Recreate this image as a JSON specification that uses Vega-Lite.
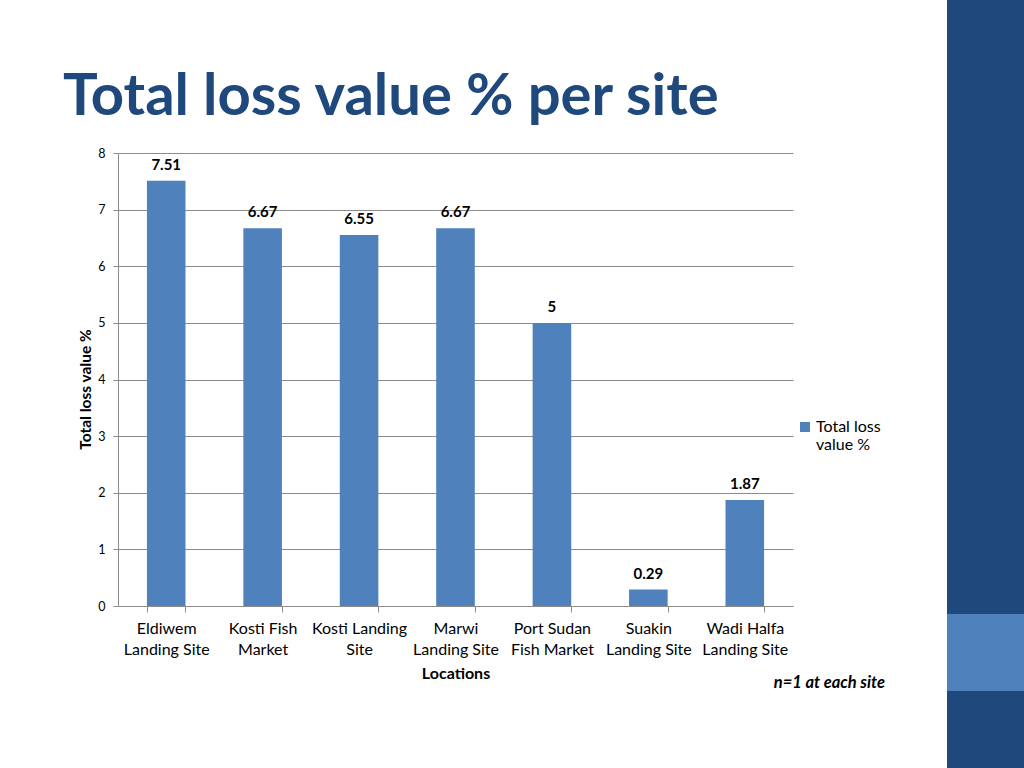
{
  "$schema": "https://vega.github.io/schema/vega-lite/v6.json",
  "autosize": {"type": "pad"},
  "padding": {"left": 63, "top": 0, "right": 0, "bottom": 0},
  "background": "white",
  "config": {"view": {"stroke": null}, "font": "Lato"},
  "columns": 2,
  "spacing": {"row": 0, "column": 154},
  "bounds": "flush",
  "concat": [
    {
      "width": 675,
      "height": 153,
      "data": {"values": []},
      "mark": "text",
      "encoding": {},
      "title": {
        "text": "Total loss value % per site",
        "orient": "top",
        "anchor": "start",
        "frame": "group",
        "dx": -55,
        "offset": -173,
        "baseline": "alphabetic",
        "font": "Lato",
        "fontSize": 58,
        "fontWeight": "bold",
        "color": "#1F497D"
      }
    },
    {"width": 77, "height": 153, "view": {"fill": "#1F497D", "stroke": null}, "data": {"values": []}, "mark": "text", "encoding": {}},
    {
      "width": 675,
      "height": 453,
      "data": {
        "values": [
          {"site": "Eldiwem Landing Site", "value": 7.51},
          {"site": "Kosti Fish Market", "value": 6.67},
          {"site": "Kosti Landing Site", "value": 6.55},
          {"site": "Marwi Landing Site", "value": 6.67},
          {"site": "Port Sudan Fish Market", "value": 5},
          {"site": "Suakin Landing Site", "value": 0.29},
          {"site": "Wadi Halfa Landing Site", "value": 1.87}
        ]
      },
      "title": {
        "text": "n=1 at each site",
        "orient": "bottom",
        "anchor": "end",
        "frame": "group",
        "dx": 92,
        "offset": -6,
        "font": "Lato",
        "fontSize": 16.5,
        "fontWeight": "bold",
        "fontStyle": "italic",
        "color": "#000000"
      },
      "encoding": {
        "x": {
          "field": "site",
          "type": "nominal",
          "sort": null,
          "scale": {"paddingInner": 0.6, "paddingOuter": 0.3},
          "axis": {
            "title": "Locations",
            "titleFont": "Lato",
            "titleFontSize": 16,
            "titleFontWeight": "bold",
            "titleColor": "#000000",
            "titlePadding": 8,
            "tickBand": "extent",
            "domainColor": "#8c8c8c",
            "tickColor": "#8c8c8c",
            "tickSize": 6,
            "labelAngle": 0,
            "labelFont": "Lato",
            "labelFontSize": 16,
            "labelColor": "#000000",
            "labelPadding": 8,
            "labelLineHeight": 21,
            "labelExpr": "datum.value == null ? '' : datum.value == 'Eldiwem Landing Site' ? ['Eldiwem', 'Landing Site'] : datum.value == 'Kosti Fish Market' ? ['Kosti Fish', 'Market'] : datum.value == 'Kosti Landing Site' ? ['Kosti Landing', 'Site'] : datum.value == 'Port Sudan Fish Market' ? ['Port Sudan', 'Fish Market'] : [replace(datum.value, ' Landing Site', ''), 'Landing Site']"
          }
        }
      },
      "layer": [
        {
          "mark": {"type": "bar"},
          "encoding": {
            "y": {
              "field": "value",
              "type": "quantitative",
              "scale": {"domain": [0, 8], "nice": false},
              "axis": {
                "title": "Total loss value %",
                "titleFont": "Lato",
                "titleFontSize": 15.5,
                "titleFontWeight": "bold",
                "titleColor": "#000000",
                "titlePadding": 4,
                "titleY": 236,
                "values": [0, 1, 2, 3, 4, 5, 6, 7, 8],
                "format": "d",
                "grid": true,
                "gridColor": "#8c8c8c",
                "domainColor": "#8c8c8c",
                "tickColor": "#8c8c8c",
                "tickSize": 5,
                "labelFont": "Lato",
                "labelFontSize": 12.5,
                "labelColor": "#000000",
                "labelPadding": 8
              }
            },
            "color": {
              "datum": "Total loss value %",
              "scale": {"range": ["#4F81BD"]},
              "legend": {
                "orient": "none",
                "legendX": 679,
                "legendY": 419,
                "title": null,
                "symbolType": "square",
                "symbolSize": 100,
                "symbolStrokeWidth": 0,
                "labelOffset": 3,
                "labelFont": "Lato",
                "labelFontSize": 16,
                "labelColor": "#000000",
                "labelExpr": "['Total loss', 'value %']"
              }
            }
          }
        },
        {
          "mark": {"type": "text", "dy": -16, "font": "Lato", "fontSize": 15, "fontWeight": "bold", "color": "#000000"},
          "encoding": {
            "y": {"field": "value", "type": "quantitative"},
            "text": {"field": "value", "type": "nominal"}
          }
        }
      ]
    },
    {"width": 77, "height": 453, "view": {"fill": "#1F497D", "stroke": null}, "data": {"values": []}, "mark": "text", "encoding": {}},
    {"width": 675, "height": 8, "data": {"values": []}, "mark": "text", "encoding": {}},
    {"width": 77, "height": 8, "view": {"fill": "#1F497D", "stroke": null}, "data": {"values": []}, "mark": "text", "encoding": {}},
    {"width": 675, "height": 77, "data": {"values": []}, "mark": "text", "encoding": {}},
    {"width": 77, "height": 77, "view": {"fill": "#4F81BD", "stroke": null}, "data": {"values": []}, "mark": "text", "encoding": {}},
    {"width": 675, "height": 77, "data": {"values": []}, "mark": "text", "encoding": {}},
    {"width": 77, "height": 77, "view": {"fill": "#1F497D", "stroke": null}, "data": {"values": []}, "mark": "text", "encoding": {}}
  ]
}
